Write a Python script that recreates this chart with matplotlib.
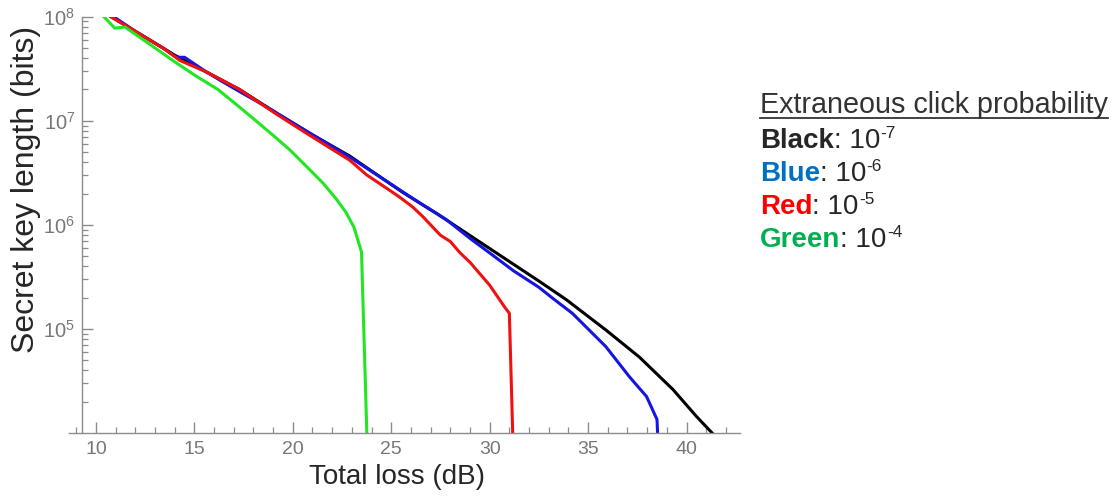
import numpy as np
import matplotlib
matplotlib.use("Agg")
import matplotlib.pyplot as plt
from matplotlib.ticker import FixedLocator, FuncFormatter, LogLocator, NullFormatter

plt.rcParams['font.family'] = ['Liberation Sans', 'DejaVu Sans']
plt.rcParams['mathtext.fontset'] = 'custom'
plt.rcParams['mathtext.rm'] = 'Liberation Sans'

# total loss (dB) and log10 of secret key length
black_x = [10.76, 12.0, 13.4, 14.0, 15.6, 17.3, 19.2, 20.86, 22.9, 25.6, 27.3, 30.34,
           32.5, 33.9, 35.9, 37.6, 39.3, 40.5, 41.3]
black_y = [8.0, 7.86, 7.70, 7.63, 7.47, 7.30, 7.07, 6.88, 6.66, 6.31, 6.11, 5.73,
           5.46, 5.28, 4.99, 4.73, 4.42, 4.16, 4.0]

blue_x = [10.9, 12.0, 13.4, 14.1, 14.5, 15.6, 16.3, 17.3, 18.7, 20.35, 22.9, 25.4, 26.45,
          27.8, 29.0, 30.0, 31.2, 32.5, 33.3, 34.2, 35.9, 37.1, 37.97, 38.5, 38.53]
blue_y = [8.0, 7.86, 7.70, 7.61, 7.61, 7.47, 7.39, 7.28, 7.13, 6.94, 6.65, 6.34, 6.21,
          6.05, 5.87, 5.73, 5.56, 5.40, 5.28, 5.15, 4.83, 4.54, 4.35, 4.13, 4.0]

red_x = [10.76, 12.0, 13.4, 14.26, 15.6, 17.3, 19.2, 20.86, 22.9, 23.75, 24.7, 25.4, 26.1,
         26.6, 27.5, 28.0, 28.5, 29.0, 30.0, 30.76, 31.0, 31.17]
red_y = [8.0, 7.86, 7.70, 7.58, 7.47, 7.30, 7.06, 6.86, 6.62, 6.48, 6.36, 6.27, 6.17,
         6.08, 5.90, 5.84, 5.73, 5.64, 5.42, 5.21, 5.15, 4.0]

green_x = [10.4, 10.96, 11.47, 12.7, 13.9, 15.0, 16.2, 17.3, 18.0, 19.0, 19.85, 20.7,
           21.54, 22.2, 22.7, 23.1, 23.49, 23.76]
green_y = [8.0, 7.89, 7.90, 7.74, 7.58, 7.44, 7.30, 7.13, 7.02, 6.86, 6.72, 6.56,
           6.40, 6.25, 6.12, 5.98, 5.74, 4.0]

series = [
    (black_x, black_y, '#000000'),
    (blue_x, blue_y, '#1414e6'),
    (red_x, red_y, '#f01010'),
    (green_x, green_y, '#22e622'),
]

legend_title = "Extraneous click probability"
legend_names = ["Black", "Blue", "Red", "Green"]
legend_exps = ["-7", "-6", "-5", "-4"]
legend_colors = ['#262626', '#0070c0', '#ff0000', '#00b050']

W, H = 1116, 497
fig = plt.figure(figsize=(W / 100, H / 100), dpi=100)
ax = fig.add_axes([0.0618, 0.1288, 0.601, 0.8376])

for xs, ys, col in series:
    ax.plot(xs, 10 ** np.array(ys), color=col, lw=2.2, solid_joinstyle='round')

ax.set_yscale('log')
ax.set_xlim(8.63, 42.7)
ax.set_ylim(1e4, 1e8)

gray = '#8c8c8c'
for s in ['top', 'right']:
    ax.spines[s].set_visible(False)
ax.spines['left'].set_position(('data', 9.3))
for s in ['left', 'bottom']:
    ax.spines[s].set_color(gray)
    ax.spines[s].set_linewidth(1.0)

ax.xaxis.set_major_locator(FixedLocator([10, 15, 20, 25, 30, 35, 40]))
ax.xaxis.set_minor_locator(FixedLocator([v for v in range(9, 43) if v % 5]))
ax.yaxis.set_major_locator(FixedLocator([1e5, 1e6, 1e7, 1e8]))
ax.yaxis.set_minor_locator(LogLocator(base=10, subs=np.arange(2, 10)))
ax.yaxis.set_minor_formatter(NullFormatter())
ax.yaxis.set_major_formatter(FuncFormatter(lambda v, p: r'$\mathregular{10^{%d}}$' % round(np.log10(v))))

ax.tick_params(axis='both', which='major', direction='in', length=8, width=1.0,
               color=gray, labelcolor='#777777')
ax.tick_params(axis='both', which='minor', direction='in', length=4, width=0.9, color=gray)
ax.tick_params(axis='x', labelsize=14, pad=6)
ax.tick_params(axis='y', labelsize=14.5, pad=5)

ax.set_xlabel("Total loss (dB)", fontsize=20, color='#262626')
ax.xaxis.set_label_coords(0.489, -0.075)
ax.set_ylabel("Secret key length (bits)", fontsize=23, color='#262626', labelpad=2)
ax.yaxis.label.set_y(0.585)

# legend block on the right
fs = 20
x0 = 760 / W
t = fig.text(x0, 1 - 113 / H, legend_title, fontsize=20.7, color='#333333',
             va='baseline', ha='left')
fig.canvas.draw()
bb = t.get_window_extent()
fig.add_artist(plt.Line2D([bb.x0 / W, bb.x1 / W], [1 - 118 / H] * 2,
                          color='#333333', lw=1.3))
for i, (name, e, col) in enumerate(zip(legend_names, legend_exps, legend_colors)):
    yb = 1 - (148 + 33 * i) / H
    t = fig.text(x0, yb, name, fontsize=fs, fontweight='bold', color=col,
                 va='baseline', ha='left')
    fig.canvas.draw()
    x1 = t.get_window_extent().x1
    t2 = fig.text(x1 / W, yb, ": 10", fontsize=fs, color='#262626',
                  va='baseline', ha='left')
    fig.canvas.draw()
    x2 = t2.get_window_extent().x1
    fig.text(x2 / W, yb + 10 / H, e, fontsize=fs * 0.62, color='#262626',
             va='baseline', ha='left')

fig.savefig("out.png", dpi=100)
